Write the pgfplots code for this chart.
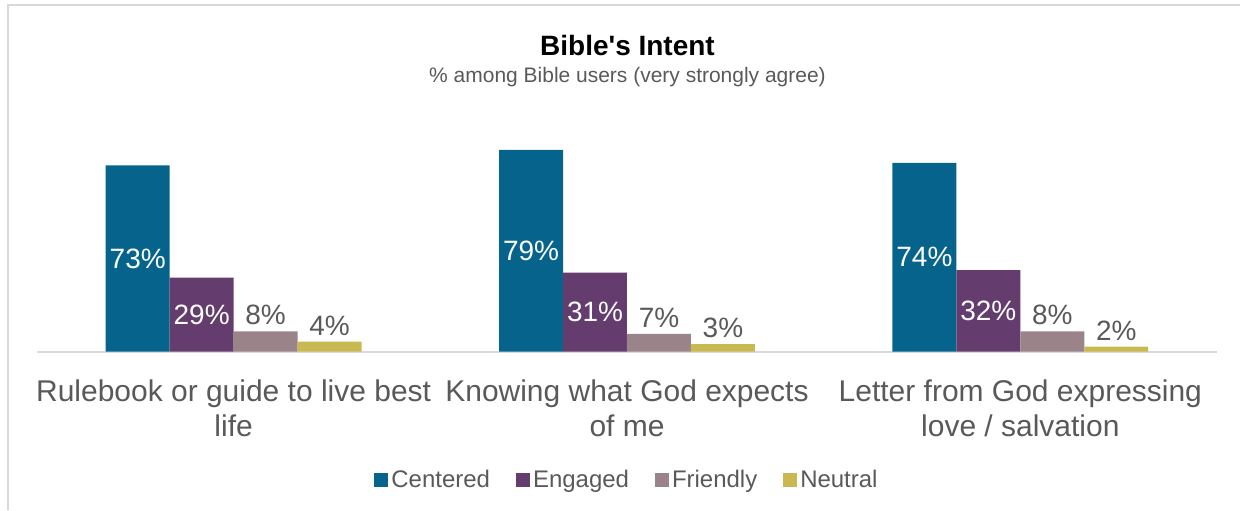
\documentclass[border=0pt]{standalone}
\usepackage{fontspec}
\setmainfont{Liberation Sans}
\usepackage{pgfplots}
\pgfplotsset{compat=1.18}
\definecolor{cCent}{HTML}{06648C}
\definecolor{cEng}{HTML}{643C6E}
\definecolor{cFri}{HTML}{9A8489}
\definecolor{cNeu}{HTML}{C9B951}
\definecolor{txt}{HTML}{595959}
\definecolor{framec}{HTML}{D9D9D9}
\begin{document}
\begin{tikzpicture}[x=1pt,y=1pt]
\path (0,0) rectangle (1241,510);
\draw[framec, line width=2pt] (8,0) -- (8,505) -- (1241,505);
\node[font=\bfseries\fontsize{28}{32}\selectfont] at (628,464) {Bible\textquotesingle s Intent};
\node[txt, font=\fontsize{21}{25}\selectfont] at (628,433) {\% among Bible users (very strongly agree)};
\begin{axis}[
  at={(37pt,158pt)}, anchor=south west,
  scale only axis, width=1181pt, height=230pt,
  xmin=-0.5, xmax=2.5, ymin=0, ymax=90,
  axis x line*=bottom, axis y line=none,
  x axis line style={-, framec, line width=2pt},
  xtick={0,1,2},
  xticklabels={Rulebook or guide to live best\\life, Knowing what God expects\\of me, Letter from God expressing\\love / salvation},
  major tick length=0pt,
  xticklabel style={align=center, font=\fontsize{30}{35}\selectfont, text=txt, inner sep=0pt, yshift=-28pt},
  ytick=\empty,
  /pgf/number format/assume math mode=true,
  clip=false,
  ybar=0pt, bar width=64pt,
  legend columns=4,
  legend style={at={(0.5,0)}, anchor=center, yshift=-128pt, draw=none, fill=none, font=\fontsize{24}{28}\selectfont, text=txt, /tikz/every even column/.append style={column sep=24pt}},
  legend image code/.code={\path[#1, draw=none] (0pt,-7pt) rectangle (14pt,7pt); \path (15pt,0pt);},
  inside/.style={nodes near coords={\pgfmathprintnumber{\pgfplotspointmeta}\%},
     visualization depends on={rawy \as \rawy},
     every node near coord/.append style={anchor=center, text=white, font=\fontsize{28}{32}\selectfont, yshift=-\rawy*1.2778pt}},
  outside/.style={nodes near coords={\pgfmathprintnumber{\pgfplotspointmeta}\%},
     every node near coord/.append style={anchor=south, inner sep=2pt, text=txt, font=\fontsize{28}{32}\selectfont, yshift=4pt}},
]
\addplot[fill=cCent, draw=none, inside] coordinates {(0,73) (1,79) (2,74)};
\addplot[fill=cEng, draw=none, inside] coordinates {(0,29) (1,31) (2,32)};
\addplot[fill=cFri, draw=none, outside] coordinates {(0,8) (1,7) (2,8)};
\addplot[fill=cNeu, draw=none, outside] coordinates {(0,4) (1,3) (2,2)};
\legend{Centered, Engaged, Friendly, Neutral}
\end{axis}
\end{tikzpicture}
\end{document}
